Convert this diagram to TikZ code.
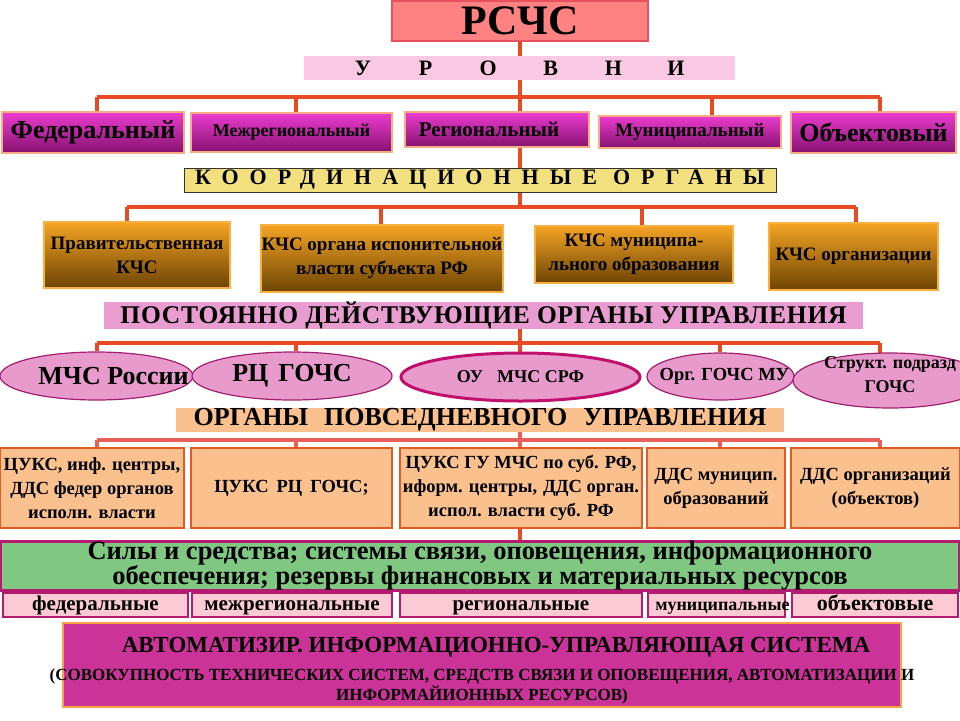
\documentclass[tikz,border=0pt]{standalone}
\usepackage{fontspec}
\setmainfont{Liberation Serif}
\usetikzlibrary{shapes.geometric}
\pgfdeclarelayer{bg}
\pgfsetlayers{bg,main}
\definecolor{linered}{HTML}{E84A26}
\definecolor{linepink}{HTML}{E8605A}
\definecolor{topfill}{HTML}{FF8282}
\definecolor{topdraw}{HTML}{E8505E}
\definecolor{lvlband}{HTML}{F9C8E2}
\definecolor{lvltop}{HTML}{EC3CD0}
\definecolor{lvlbot}{HTML}{861270}
\definecolor{lvldraw}{HTML}{F8AC84}
\definecolor{coordfill}{HTML}{F2E07E}
\definecolor{kchstop}{HTML}{F4A424}
\definecolor{kchsbot}{HTML}{6E4404}
\definecolor{kchsdraw}{HTML}{F8B040}
\definecolor{postfill}{HTML}{E89CD0}
\definecolor{ellfill}{HTML}{E89ACC}
\definecolor{elldraw}{HTML}{A0206E}
\definecolor{elldrawb}{HTML}{C0106C}
\definecolor{peach}{HTML}{FAC08E}
\definecolor{peachdraw}{HTML}{E65A22}
\definecolor{greenfill}{HTML}{80C882}
\definecolor{magdraw}{HTML}{B41C72}
\definecolor{pinkfill}{HTML}{FCCAD4}
\definecolor{autofill}{HTML}{CC3399}
\definecolor{autodraw}{HTML}{F6A446}
\newcommand\fsz[2]{\fontsize{#1}{#2}\selectfont}
\newcommand\zw[1]{\makebox[0pt][c]{#1}}
\begin{document}
\begin{tikzpicture}[x=1pt,y=-1pt,
  box/.style={rectangle, inner sep=0pt, align=center, text=black},
  topbox/.style={box, fill=topfill, draw=topdraw, line width=2.5pt},
  band/.style={box},
  lvl/.style={box, top color=lvltop, bottom color=lvlbot, draw=lvldraw, line width=2.5pt},
  kchs/.style={box, top color=kchstop, bottom color=kchsbot, draw=kchsdraw, line width=2.5pt, font=\bfseries\fsz{19}{24}},
  oval/.style={ellipse, inner sep=0pt, align=center, fill=ellfill, draw=elldraw, line width=1.2pt},
  daily/.style={box, fill=peach, draw=peachdraw, line width=2.5pt, font=\bfseries\fsz{18.5}{24}},
  resbox/.style={box, fill=pinkfill, draw=magdraw, line width=2.5pt, font=\bfseries\fsz{21}{23}, text height=14pt, text depth=4pt},
  conn/.style={draw=linered, line width=3.5pt},
  connb/.style={draw=linepink, line width=3.5pt}
]
\useasboundingbox (0,0) rectangle (960,720);
\clip (0,0) rectangle (960,720);

% title
\node[topbox, minimum width=256, minimum height=40, font=\bfseries\fsz{42}{46}] (rschs) at (520,21) {РСЧС};
\node[band, fill=lvlband, minimum width=431, minimum height=24, font=\bfseries\fsz{22}{24}] (urovni) at (519.5,68)
  {\makebox[62.6pt]{У}\makebox[62.6pt]{Р}\makebox[62.6pt]{О}\makebox[62.6pt]{В}\makebox[62.6pt]{Н}\makebox[62.6pt]{И}};

% levels
\node[lvl, minimum width=182, minimum height=41, font=\bfseries\fsz{26}{28}] (fed) at (93,132.5) {Федеральный};
\node[lvl, minimum width=201, minimum height=39, font=\bfseries\fsz{18}{20}] (mezh) at (291.5,132.5) {Межрегиональный};
\node[lvl, minimum width=184, minimum height=35, font=\bfseries\fsz{21}{23}] (reg) at (497,129.5) {\hspace*{-16pt}Региональный};
\node[lvl, minimum width=182, minimum height=32, font=\bfseries\fsz{19}{21}] (mun) at (690,132) {Муниципальный};
\node[lvl, minimum width=165, minimum height=41, font=\bfseries\fsz{26}{28}] (obj) at (873.5,132.5) {Объектовый};

% coordination
\node[band, fill=coordfill, draw=black!80, line width=1pt, minimum width=592, minimum height=24, font=\bfseries\fsz{22}{24}] (coord) at (480,180)
  {\addfontfeature{LetterSpace=50}КООРДИНАЦИОННЫЕ\hspace{16pt}ОРГАНЫ};

\node[kchs, minimum width=186, minimum height=66] (k1) at (137,255) {Правительственная\\КЧС};
\node[kchs, minimum width=242, minimum height=67] (k2) at (382,258.5) {КЧС органа испонительной\\власти субъекта РФ};
\node[kchs, minimum width=198, minimum height=57] (k3) at (634,254.5) {КЧС муниципа-\\льного образования};
\node[kchs, minimum width=169, minimum height=67] (k4) at (853.5,256.5) {КЧС организации};

% permanent bodies
\node[band, fill=postfill, minimum width=759, minimum height=25, font=\bfseries\fsz{25.5}{27}] (post) at (483.5,315.5)
  {\addfontfeature{LetterSpace=3}ПОСТОЯННО ДЕЙСТВУЮЩИЕ ОРГАНЫ УПРАВЛЕНИЯ};

\node[oval, minimum width=193, minimum height=48, font=\bfseries\fsz{26}{28}] (e1) at (96.5,376) {\zw{\hspace*{34pt}МЧС России}};
\node[oval, minimum width=200, minimum height=48, font=\bfseries\fsz{26}{28}] (e2) at (292,376) {\zw{РЦ\hspace{10pt}ГОЧС}};
\node[oval, draw=elldrawb, line width=3pt, minimum width=239, minimum height=48, font=\bfseries\fsz{18}{20}] (e3) at (520.5,377) {\zw{ОУ\hspace{14pt}МЧС СРФ}};
\node[oval, minimum width=147, minimum height=47, font=\bfseries\fsz{18.5}{20}] (e4) at (720.5,376.5) {\zw{\hspace*{8pt}Орг. ГОЧС МУ}};
\node[oval, minimum width=194, minimum height=55, font=\bfseries\fsz{18}{24}] (e5) at (890,380.5)
  {\smash{\zw{\begin{tabular}{@{}c@{}}Структ. подразд\\ГОЧС\end{tabular}}}};

% daily bodies
\node[band, fill=peach, minimum width=608, minimum height=24, font=\bfseries\fsz{26}{28}] (povs) at (480,420)
  {ОРГАНЫ\hspace{16pt}ПОВСЕДНЕВНОГО\hspace{16pt}УПРАВЛЕНИЯ};

\node[daily, minimum width=184, minimum height=80] (c1) at (92,488) {ЦУКС, инф. центры,\\ДДС федер органов\\исполн. власти};
\node[daily, minimum width=201, minimum height=80] (c2) at (291.5,488) {\raisebox{3pt}{ЦУКС\hspace{8pt}РЦ\hspace{8pt}ГОЧС;}};
\node[daily, minimum width=242, minimum height=80] (c3) at (521,488) {ЦУКС ГУ МЧС по суб. РФ,\\иформ. центры,\hspace{6pt}ДДС орган.\\испол. власти суб. РФ};
\node[daily, minimum width=138, minimum height=80] (c4) at (716,488) {ДДС муницип.\\образований};
\node[daily, minimum width=169, minimum height=80] (c5) at (875.5,488) {ДДС организаций\\(объектов)};

% forces
\node[box, fill=greenfill, draw=magdraw, line width=2.5pt, minimum width=958, minimum height=47, font=\bfseries\fsz{26.5}{25}] (green) at (480,566)
  {Силы и средства; системы связи, оповещения, информационного\\обеспечения; резервы финансовых и материальных ресурсов};

\node[resbox, minimum width=185, minimum height=24] (p1) at (95.5,605) {федеральные};
\node[resbox, minimum width=200, minimum height=24] (p2) at (292,605) {межрегиональные};
\node[resbox, minimum width=242, minimum height=24] (p3) at (521,605) {региональные};
\node[resbox, minimum width=137, minimum height=24, font=\bfseries\fsz{18}{20}] (p4) at (716.5,605) {\zw{\hspace*{12pt}муниципальные}};
\node[resbox, minimum width=166, minimum height=24, font=\bfseries\fsz{22}{24}] (p5) at (875,605) {объектовые};

% AIUS
\node[box, fill=autofill, draw=autodraw, line width=2.5pt, minimum width=838, minimum height=84, font=\bfseries\fsz{17}{20}] (auto) at (482,665)
  {\rule{0pt}{27pt}{\fsz{23}{24}\hspace*{28pt}АВТОМАТИЗИР. ИНФОРМАЦИОННО-УПРАВЛЯЮЩАЯ СИСТЕМА}\\[8pt]
   \zw{(СОВОКУПНОСТЬ ТЕХНИЧЕСКИХ СИСТЕМ, СРЕДСТВ СВЯЗИ И ОПОВЕЩЕНИЯ, АВТОМАТИЗАЦИИ И}\\
   ИНФОРМАЙИОННЫХ РЕСУРСОВ)};

% junction coordinates
\coordinate (a1) at (97,97);   \coordinate (a2) at (296,97);
\coordinate (a4) at (712,97);  \coordinate (a5) at (880,97);
\coordinate (b1) at (127,207); \coordinate (b2) at (381,207);
\coordinate (b3) at (642,207); \coordinate (b4) at (856,207);
\coordinate (b0) at (520,207);
\coordinate (g1) at (97,343);  \coordinate (g2) at (296,343);
\coordinate (g4) at (720,343); \coordinate (g5) at (880,343);
\coordinate (h1) at (97,440);  \coordinate (h2) at (296,440);
\coordinate (h4) at (720,440); \coordinate (h5) at (880,440);

\begin{pgfonlayer}{bg}
  % level 1
  \draw[conn] (rschs.south) -- (reg.north -| rschs.south);
  \draw[conn] (a1) -- (a5);
  \draw[conn] (a1) -- (fed.north -| a1);
  \draw[conn] (a2) -- (mezh.north -| a2);
  \draw[conn] (a4) -- (mun.north -| a4);
  \draw[conn] (a5) -- (obj.north -| a5);
  % level 2
  \draw[conn] (reg.south -| rschs.south) -- (coord.north -| rschs.south);
  \draw[conn] (coord.south -| rschs.south) -- (b0);
  \draw[conn] (b1) -- (b4);
  \draw[conn] (b1) -- (k1.north -| b1);
  \draw[conn] (b2) -- (k2.north -| b2);
  \draw[conn] (b3) -- (k3.north -| b3);
  \draw[conn] (b4) -- (k4.north -| b4);
  % level 3
  \draw[conn] (post.south -| rschs.south) -- (e3.north -| rschs.south);
  \draw[conn] (g1) -- (g5);
  \draw[conn] (g1) -- (e1.north -| g1);
  \draw[conn] (g2) -- (e2.north -| g2);
  \draw[conn] (g4) -- (e4.north -| g4);
  \draw[conn] (g5) -- ([yshift=-4pt]e5.north -| g5);
  % level 4
  \draw[connb] (povs.south -| rschs.south) -- (c3.north -| rschs.south);
  \draw[connb] (h1) -- (h5);
  \draw[connb] (h1) -- (c1.north -| h1);
  \draw[connb] (h2) -- (c2.north -| h2);
  \draw[connb] (h4) -- (c4.north -| h4);
  \draw[connb] (h5) -- (c5.north -| h5);
  \draw[conn] (c3.south -| rschs.south) -- (green.north -| rschs.south);
\end{pgfonlayer}
\end{tikzpicture}
\end{document}
